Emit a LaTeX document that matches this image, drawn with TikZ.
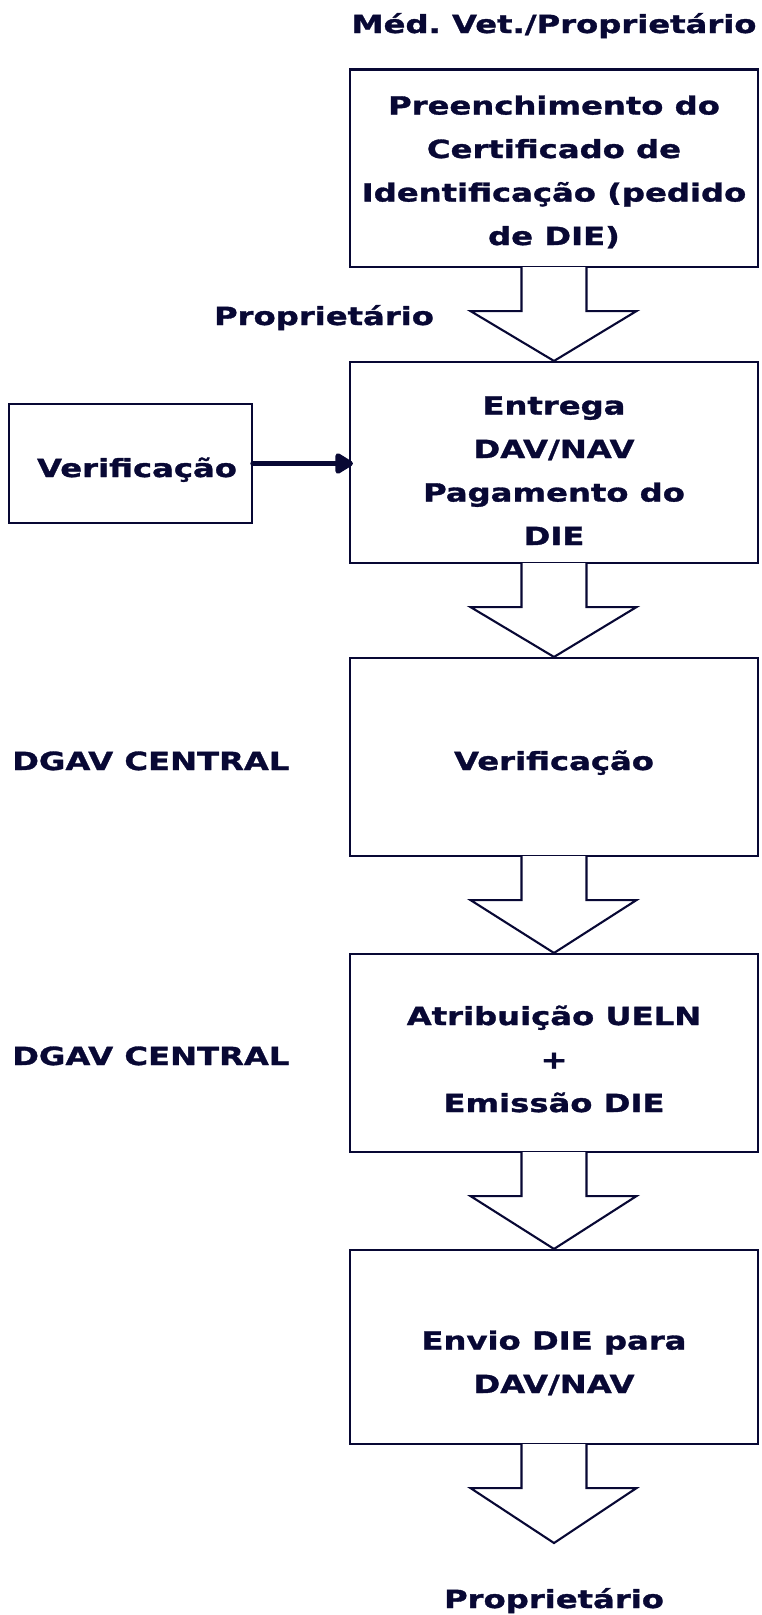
\documentclass[tikz,border=0pt]{standalone}
\usepackage{fontspec}
\setmainfont{DejaVu Sans}[FakeStretch=1.29,FakeBold=1.3]
\usetikzlibrary{calc,arrows.meta}
\definecolor{navy}{RGB}{8,8,52}
\frenchspacing
\newcommand\flowarr[2]{%
  \draw[bigarrow] ($(#1.south)+(-32.5,-1)$) -- ($(#1.south)+(-32.5,43)$) -- ($(#1.south)+(-83.5,43)$)
     -- (#2) -- ($(#1.south)+(82.5,43)$) -- ($(#1.south)+(32.5,43)$) -- ($(#1.south)+(32.5,-1)$);}
\begin{document}
\begin{tikzpicture}[x=1pt,y=-1pt,
  box/.style={draw=navy,line width=2.1pt,fill=white,inner sep=0pt,minimum width=408pt},
  txt/.style={text=navy,font=\frenchspacing\bfseries\fontsize{25}{43.5}\selectfont,align=center,inner sep=0pt,anchor=base},
  lbl/.style={text=navy,font=\frenchspacing\bfseries\fontsize{25}{30}\selectfont,inner sep=0pt},
  bigarrow/.style={draw=navy,line width=2.1pt,fill=white,line join=miter}]
\useasboundingbox (0,0) rectangle (761,1615);

\node[box,minimum height=197.5pt] (b1) at (554,168.25) {};
\node[box,minimum height=201pt] (b2) at (554,462.5) {};
\node[box,minimum height=198pt] (b3) at (554,757) {};
\node[box,minimum height=198pt] (b4) at (554,1053) {};
\node[box,minimum height=194pt] (b5) at (554,1347) {};
\node[box,minimum width=243pt,minimum height=119pt] (v) at (130.5,463.5) {};
\coordinate (end) at (554,1543);

\flowarr{b1}{b2.north}
\flowarr{b2}{b3.north}
\flowarr{b3}{b4.north}
\flowarr{b4}{b5.north}
\flowarr{b5}{end}

\draw[navy,line width=5.5pt,line cap=round,-{Triangle[length=20pt,width=23pt,round]},shorten >=-4pt] (v.east) -- (v.east -| b2.west);

\node[txt] (t1) at (554,245) {Preenchimento do\\Certificado de\\Identificação (pedido\\de DIE)};
\node[txt] (t2) at (554,545) {Entrega\\DAV/NAV\\Pagamento do\\DIE};
\node[txt] (t3) at (554,770) {Verificação};
\node[txt] (t4) at (554,1112) {Atribuição UELN\\+\\Emissão DIE};
\node[txt] (t5) at (554,1393) {Envio DIE para\\DAV/NAV};
\node[txt] (tv) at (137,477) {Verificação};

\node[lbl,anchor=base] (l0) at (554,33) {Méd. Vet./Proprietário};
\node[lbl,anchor=base] (l1) at (324,325) {Proprietário};
\node[lbl,anchor=base west] (l2) at (12,770) {DGAV CENTRAL};
\node[lbl,anchor=base west] (l3) at (12,1065) {DGAV CENTRAL};
\node[lbl,anchor=base] (l4) at (554,1608) {Proprietário};
\end{tikzpicture}
\end{document}
